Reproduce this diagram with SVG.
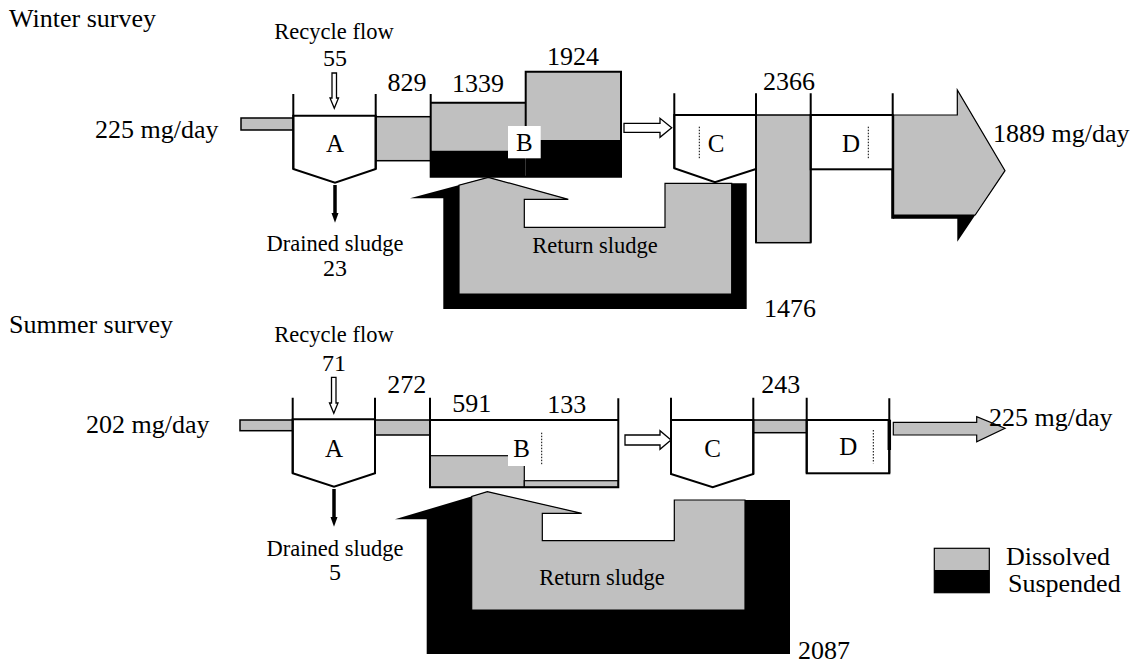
<svg xmlns="http://www.w3.org/2000/svg" width="1133" height="666" viewBox="0 0 1133 666">
<style>
.ln{fill:none;stroke:#000;stroke-width:2}
.tk{fill:#fff;stroke:#000;stroke-width:2}
.g{fill:#c0c0c0;stroke:#000;stroke-width:1.5}
.gs{fill:#c0c0c0;stroke:#000;stroke-width:1.2}
.k{fill:#000}
.ha{fill:#fff;stroke:#000;stroke-width:1.3}
.dot{stroke:#000;stroke-width:1;stroke-dasharray:1.5,1.5}
text{font-family:"Liberation Serif","Times New Roman",serif;fill:#000}
.h{font-size:26px}
.n{font-size:26px;text-anchor:middle}
.s{font-size:24px;text-anchor:middle}
.l{font-size:22.5px;text-anchor:middle}
.c{font-size:25px;text-anchor:middle}
</style>
<!-- ===== WINTER ===== -->
<text class="h" x="9" y="27">Winter survey</text>
<g id="w-return-sludge">
<polygon class="k" points="488.3,177.3 568.3,199.3 524.3,199.3 524.3,227.3 665,227.3 665,183.3 746.7,183.3 746.7,309 443.3,309 443.3,198.3 410,198.3"/>
<polygon class="gs" points="488.3,177.3 568.3,199.3 524.3,199.3 524.3,227.3 665,227.3 665,183.3 731.7,183.3 731.7,294 459,294 459,185.2"/>
<text class="l" x="595" y="253">Return sludge</text>
<text class="n" x="790" y="317">1476</text>
</g>
<g id="connectors-winter">
<rect class="g" x="241" y="118" width="52.3" height="12"/>
<rect class="g" x="375.7" y="116.7" width="55" height="44"/>
<polygon class="ha" points="332,73 336.5,73 336.5,98 338.5,98 334.3,108.3 330,98 332,98"/>
<line x1="335" y1="185" x2="335" y2="214" stroke="#000" stroke-width="3.5"/>
<polygon class="k" points="331.5,213 338.5,213 335,222.7"/>
<polygon class="ha" points="624,123.3 660,123.3 660,118.3 671.7,127.7 660,137.3 660,132.3 624,132.3"/>
<rect class="g" x="756" y="115" width="54.7" height="127.7"/>
<polygon class="k" points="892.7,115 957.3,115 957.3,90 1005,170.7 957.3,241.7 957.3,218.7 892.7,218.7"/>
<polygon class="gs" points="892.7,115 957.3,115 957.3,90 1005,170.7 975.2,215 892.7,215"/>
<line x1="892.7" y1="115" x2="892.7" y2="218.7" stroke="#000" stroke-width="3"/>
</g>
<text class="h" x="95" y="138">225 mg/day</text>
<text class="h" x="993" y="142">1889 mg/day</text>
<text class="l" x="334" y="39">Recycle flow</text>
<text class="s" x="335" y="66">55</text>
<text class="n" x="407" y="91">829</text>
<text class="l" x="335" y="251">Drained sludge</text>
<text class="s" x="335" y="276">23</text>
<g id="w-tank-A">
<path class="tk" d="M293.3,115.7 V169 L335,182.7 L375.7,169 V115.7 Z"/>
<path class="ln" d="M293.3,94 V169 M375.7,94 V169"/>
<text class="c" x="335" y="152">A</text>
</g>
<g id="w-tank-B">
<rect x="430.7" y="102.7" width="95" height="48" fill="#c0c0c0"/>
<rect x="430.7" y="150.7" width="95" height="26" fill="#000"/>
<rect x="525.7" y="71.7" width="95.3" height="68.3" fill="#c0c0c0"/>
<rect x="525.7" y="140" width="95.3" height="36.7" fill="#000"/>
<path class="ln" d="M430.7,94 V176.7 H621 V71.7 H525.7 V140 M430.7,102.7 H525.7"/>
<rect x="508" y="126" width="32.7" height="32.3" fill="#fff"/>
<text class="c" x="524.3" y="151">B</text>
<text class="n" x="478" y="92">1339</text>
<text class="n" x="573" y="65">1924</text>
</g>
<g id="w-tank-C">
<path class="tk" d="M674.3,115 V168.3 L715,182.3 L756,169 V115 Z"/>
<path class="ln" d="M674.3,93.3 V168.3 M756,93.3 V242.7"/>
<line class="dot" x1="699.3" y1="126.7" x2="699.3" y2="158.3"/>
<text class="c" x="716" y="152">C</text>
<text class="n" x="789" y="90">2366</text>
</g>
<g id="w-tank-D">
<rect class="tk" x="810.7" y="115" width="82" height="54.3"/>
<path class="ln" d="M810.7,93.3 V242.7 M892.7,93.3 V115"/>
<line class="dot" x1="868.3" y1="126.7" x2="868.3" y2="158.3"/>
<text class="c" x="851" y="152">D</text>
</g>
<!-- ===== SUMMER ===== -->
<text class="h" x="9" y="333">Summer survey</text>
<g id="s-return-sludge">
<polygon class="k" points="487.3,491.7 581.7,513.3 542.3,513.3 542.3,540.7 674.3,540.7 674.3,500 790,500 790,654 426.7,654 426.7,519.3 395,519.3"/>
<polygon class="gs" points="487.3,491.7 581.7,513.3 542.3,513.3 542.3,540.7 674.3,540.7 674.3,500 745,500 745,610 471.7,610 471.7,496.4"/>
<text class="l" x="602" y="585">Return sludge</text>
<text class="n" x="824" y="659">2087</text>
</g>
<g id="connectors-summer">
<rect class="g" x="240" y="420" width="52.7" height="10.7"/>
<rect class="g" x="375" y="420" width="55" height="15"/>
<polygon class="ha" points="331.5,377.3 336,377.3 336,403 338,403 333.8,413.3 329.5,403 331.5,403"/>
<line x1="334" y1="489" x2="334" y2="518" stroke="#000" stroke-width="3.5"/>
<polygon class="k" points="330.5,517 337.5,517 334,526.7"/>
<polygon class="ha" points="625,435 660,435 660,430.7 671,440 660,449.3 660,445 625,445"/>
<rect class="g" x="753.3" y="420" width="53.4" height="12.7"/>
<polygon class="gs" points="893.3,422.3 976.7,422.3 976.7,416.7 1005,428.3 976.7,441.7 976.7,435 893.3,435"/>
</g>
<text class="h" x="86" y="433">202 mg/day</text>
<text class="h" x="989" y="426">225 mg/day</text>
<text class="l" x="334" y="342">Recycle flow</text>
<text class="s" x="334" y="371">71</text>
<text class="n" x="406.7" y="392.7">272</text>
<text class="l" x="335" y="556">Drained sludge</text>
<text class="s" x="335" y="580">5</text>
<g id="s-tank-A">
<path class="tk" d="M292.7,419.3 V473.3 L334,486.7 L375,473.3 V419.3 Z"/>
<path class="ln" d="M292.7,397.7 V473.3 M375,397.7 V473.3"/>
<text class="c" x="334" y="456.7">A</text>
</g>
<g id="s-tank-B">
<rect x="430" y="420" width="188.3" height="67.3" fill="#fff"/>
<rect class="gs" x="430" y="455.7" width="94.3" height="31.6"/>
<rect class="gs" x="524.3" y="480.7" width="94" height="6.6"/>
<path class="ln" d="M430,397.7 V487.3 H618.3 V398.3 M430,420 H618.3"/>
<rect x="508" y="436" width="24" height="30" fill="#fff"/>
<line class="dot" x1="541.7" y1="432.7" x2="541.7" y2="465"/>
<text class="c" x="521.7" y="456.5">B</text>
<text class="n" x="471.7" y="411.7">591</text>
<text class="n" x="566.7" y="413">133</text>
</g>
<g id="s-tank-C">
<path class="tk" d="M671,420 V474 L712.7,487.3 L753.3,474 V420 Z"/>
<path class="ln" d="M671,397.7 V474 M753.3,397.7 V474"/>
<text class="c" x="712.7" y="457">C</text>
<text class="n" x="780.7" y="392.7">243</text>
</g>
<g id="s-tank-D">
<rect class="tk" x="806.7" y="420" width="82.6" height="53.3"/>
<path class="ln" d="M806.7,397.7 V473.3 M889.3,398.3 V473.3"/>
<line x1="889.3" y1="420" x2="889.3" y2="450" stroke="#000" stroke-width="3.5"/>
<line class="dot" x1="873.3" y1="430" x2="873.3" y2="463.3"/>
<text class="c" x="848.3" y="455">D</text>
</g>
<!-- legend -->
<g id="legend">
<rect x="934.3" y="548.3" width="55" height="21.7" fill="#c0c0c0"/>
<rect x="934.3" y="570" width="55" height="22.7" fill="#000"/>
<rect x="934.3" y="548.3" width="55" height="44.4" fill="none" stroke="#000" stroke-width="1.2"/>
<text class="h" x="1006" y="565">Dissolved</text>
<text class="h" x="1008" y="592">Suspended</text>
</g>
</svg>
